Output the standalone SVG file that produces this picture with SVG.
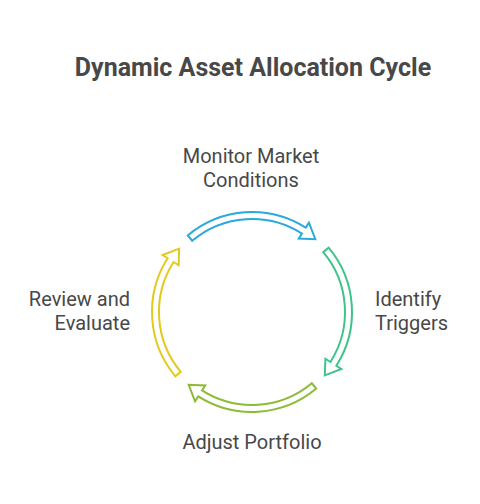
<svg xmlns="http://www.w3.org/2000/svg" width="480" height="504" viewBox="0 0 480 504">
<style>
.t{font-family:Roboto,"Liberation Sans",sans-serif;fill:#484848}
.title{font-size:25px;font-weight:bold;text-anchor:middle}
.lbl{font-size:20px}
.arr{fill:#fff;stroke-width:2;stroke-linejoin:miter}
</style>
<defs>
<path id="arrow" d="M187.72,235.40 A100,100 0 0 1 305.73,227.66 L308.95,222.60 L315.31,239.17 L298.74,238.62 L301.97,233.56 A93,93 0 0 0 192.22,240.76 Z"/>
</defs>
<rect width="480" height="504" fill="#fff"/>
<text class="t title" x="253" y="76">Dynamic Asset Allocation Cycle</text>
<g id="connectors">
<use id="arrow-top" href="#arrow" class="arr" stroke="#29a9dc"/>
<use id="arrow-right" href="#arrow" class="arr" stroke="#3ec48a" transform="rotate(90 252 312)"/>
<use id="arrow-bottom" href="#arrow" class="arr" stroke="#8cbb35" transform="rotate(180 252 312)"/>
<use id="arrow-left" href="#arrow" class="arr" stroke="#e3c91e" transform="rotate(270 252 312)"/>
</g>
<g id="node-monitor"><text class="t lbl" x="251" y="163" text-anchor="middle"><tspan x="251">Monitor Market</tspan><tspan x="251" dy="24">Conditions</tspan></text></g>
<g id="node-identify"><text class="t lbl" x="375" y="306"><tspan x="375">Identify</tspan><tspan x="375" dy="24">Triggers</tspan></text></g>
<g id="node-adjust"><text class="t lbl" x="252" y="449" text-anchor="middle">Adjust Portfolio</text></g>
<g id="node-review"><text class="t lbl" x="130" y="306" text-anchor="end"><tspan x="130">Review and</tspan><tspan x="130" dy="24">Evaluate</tspan></text></g>
</svg>
